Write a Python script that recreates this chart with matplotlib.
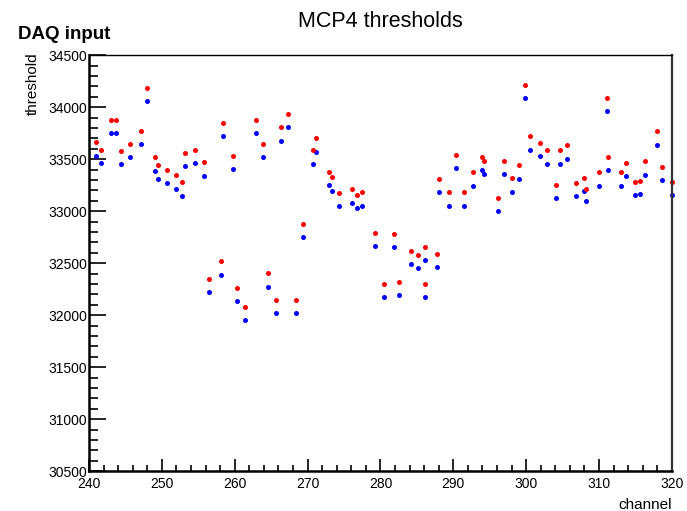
import numpy as np
import matplotlib
matplotlib.use('Agg')
import matplotlib.pyplot as plt
from matplotlib.ticker import MultipleLocator

plt.rcParams['font.family'] = ['Liberation Sans', 'DejaVu Sans']

# channel positions of the points
channel = [240.9, 241.65, 243.0, 243.7, 244.4, 245.6, 247.1, 248.0, 249.05, 249.4,
           250.7, 252.0, 252.8, 253.2, 254.5, 255.8, 256.4, 258.1, 258.4, 259.8,
           260.3, 261.4, 262.95, 263.9, 264.5, 265.7, 266.3, 267.3, 268.4, 269.4,
           270.7, 271.2, 273.0, 273.3, 274.3, 276.1, 276.8, 277.4, 279.2, 280.5,
           281.8, 282.5, 284.2, 285.1, 286.1, 286.1, 287.7, 288.1, 289.4, 290.3,
           291.5, 292.7, 293.9, 294.2, 296.1, 297.0, 298.0, 299.0, 299.8, 300.5,
           301.9, 302.9, 304.1, 304.6, 305.6, 306.8, 307.9, 308.2, 310.0, 311.1,
           311.2, 313.0, 313.7, 314.9, 315.6, 316.3, 318.0, 318.6, 320.0]

# upper thresholds (red)
red_thr = [33661, 33591, 33878, 33878, 33581, 33645, 33773, 34188, 33524, 33441,
           33396, 33345, 33278, 33562, 33591, 33470, 32349, 32518, 33846, 33530,
           32262, 32077, 33875, 33645, 32403, 32147, 33805, 33939, 32147, 32879,
           33588, 33703, 33377, 33326, 33179, 33211, 33160, 33182, 32793, 32304,
           32783, 32320, 32620, 32575, 32652, 32301, 32591, 33307, 33182, 33540,
           33182, 33374, 33524, 33482, 33125, 33486, 33316, 33441, 34217, 33719,
           33652, 33585, 33256, 33585, 33632, 33275, 33323, 33217, 33374, 34089,
           33524, 33374, 33466, 33284, 33294, 33479, 33767, 33428, 33284]

# lower thresholds (blue)
blue_thr = [33533, 33460, 33747, 33747, 33457, 33517, 33645, 34060, 33390, 33307,
            33272, 33214, 33147, 33434, 33463, 33342, 32221, 32390, 33719, 33402,
            32135, 31950, 33747, 33517, 32275, 32020, 33677, 33811, 32020, 32748,
            33457, 33569, 33249, 33198, 33048, 33083, 33032, 33054, 32665, 32173,
            32655, 32192, 32492, 32451, 32528, 32173, 32464, 33182, 33054, 33412,
            33054, 33246, 33393, 33355, 32997, 33358, 33185, 33313, 34089, 33591,
            33527, 33457, 33128, 33457, 33505, 33147, 33195, 33093, 33246, 33961,
            33396, 33246, 33342, 33157, 33169, 33351, 33639, 33300, 33157]

fig = plt.figure(figsize=(6.87, 5.11), dpi=100)
ax = fig.add_axes([0.1296, 0.078, 0.978 - 0.1296, 0.892 - 0.078])

ax.plot(channel, blue_thr, 'o', color='#0000ff', ms=3.6, mec='none', clip_on=False)
ax.plot(channel, red_thr, 'o', color='#ff0000', ms=3.6, mec='none', clip_on=False)

ax.set_xlim(240, 320)
ax.set_ylim(30500, 34500)

# ROOT-like ticks: inside, left/bottom only
ax.xaxis.set_major_locator(MultipleLocator(10))
ax.xaxis.set_minor_locator(MultipleLocator(2))
ax.yaxis.set_major_locator(MultipleLocator(500))
ax.yaxis.set_minor_locator(MultipleLocator(100))
ax.tick_params(axis='x', which='major', direction='in', length=9, width=1.2,
               labelsize=10, pad=4)
ax.tick_params(axis='x', which='minor', direction='in', length=4.5, width=1.2)
ax.tick_params(axis='y', which='major', direction='in', length=12.5, width=1.2,
               labelsize=10, pad=1.5)
ax.tick_params(axis='y', which='minor', direction='in', length=6.3, width=1.2)

for side in ['left', 'bottom']:
    ax.spines[side].set_linewidth(1.8)
ax.spines['top'].set_linewidth(1.0)
ax.spines['right'].set_linewidth(1.6)
ax.spines['right'].set_color('#333333')

ax.set_xlabel('channel', fontsize=11)
ax.xaxis.set_label_coords(1.0, -0.065)
ax.xaxis.label.set_horizontalalignment('right')
ax.set_ylabel('threshold', fontsize=11)
ax.yaxis.set_label_coords(-0.108, 1.007)
ax.yaxis.label.set_verticalalignment('top')
ax.yaxis.label.set_horizontalalignment('right')

ax.set_title('MCP4 thresholds', fontsize=15.5, pad=20)
fig.text(18 / 687, 1 - 39 / 511, 'DAQ input', fontsize=13.5, fontweight='bold')

fig.savefig('out.png', dpi=100)
